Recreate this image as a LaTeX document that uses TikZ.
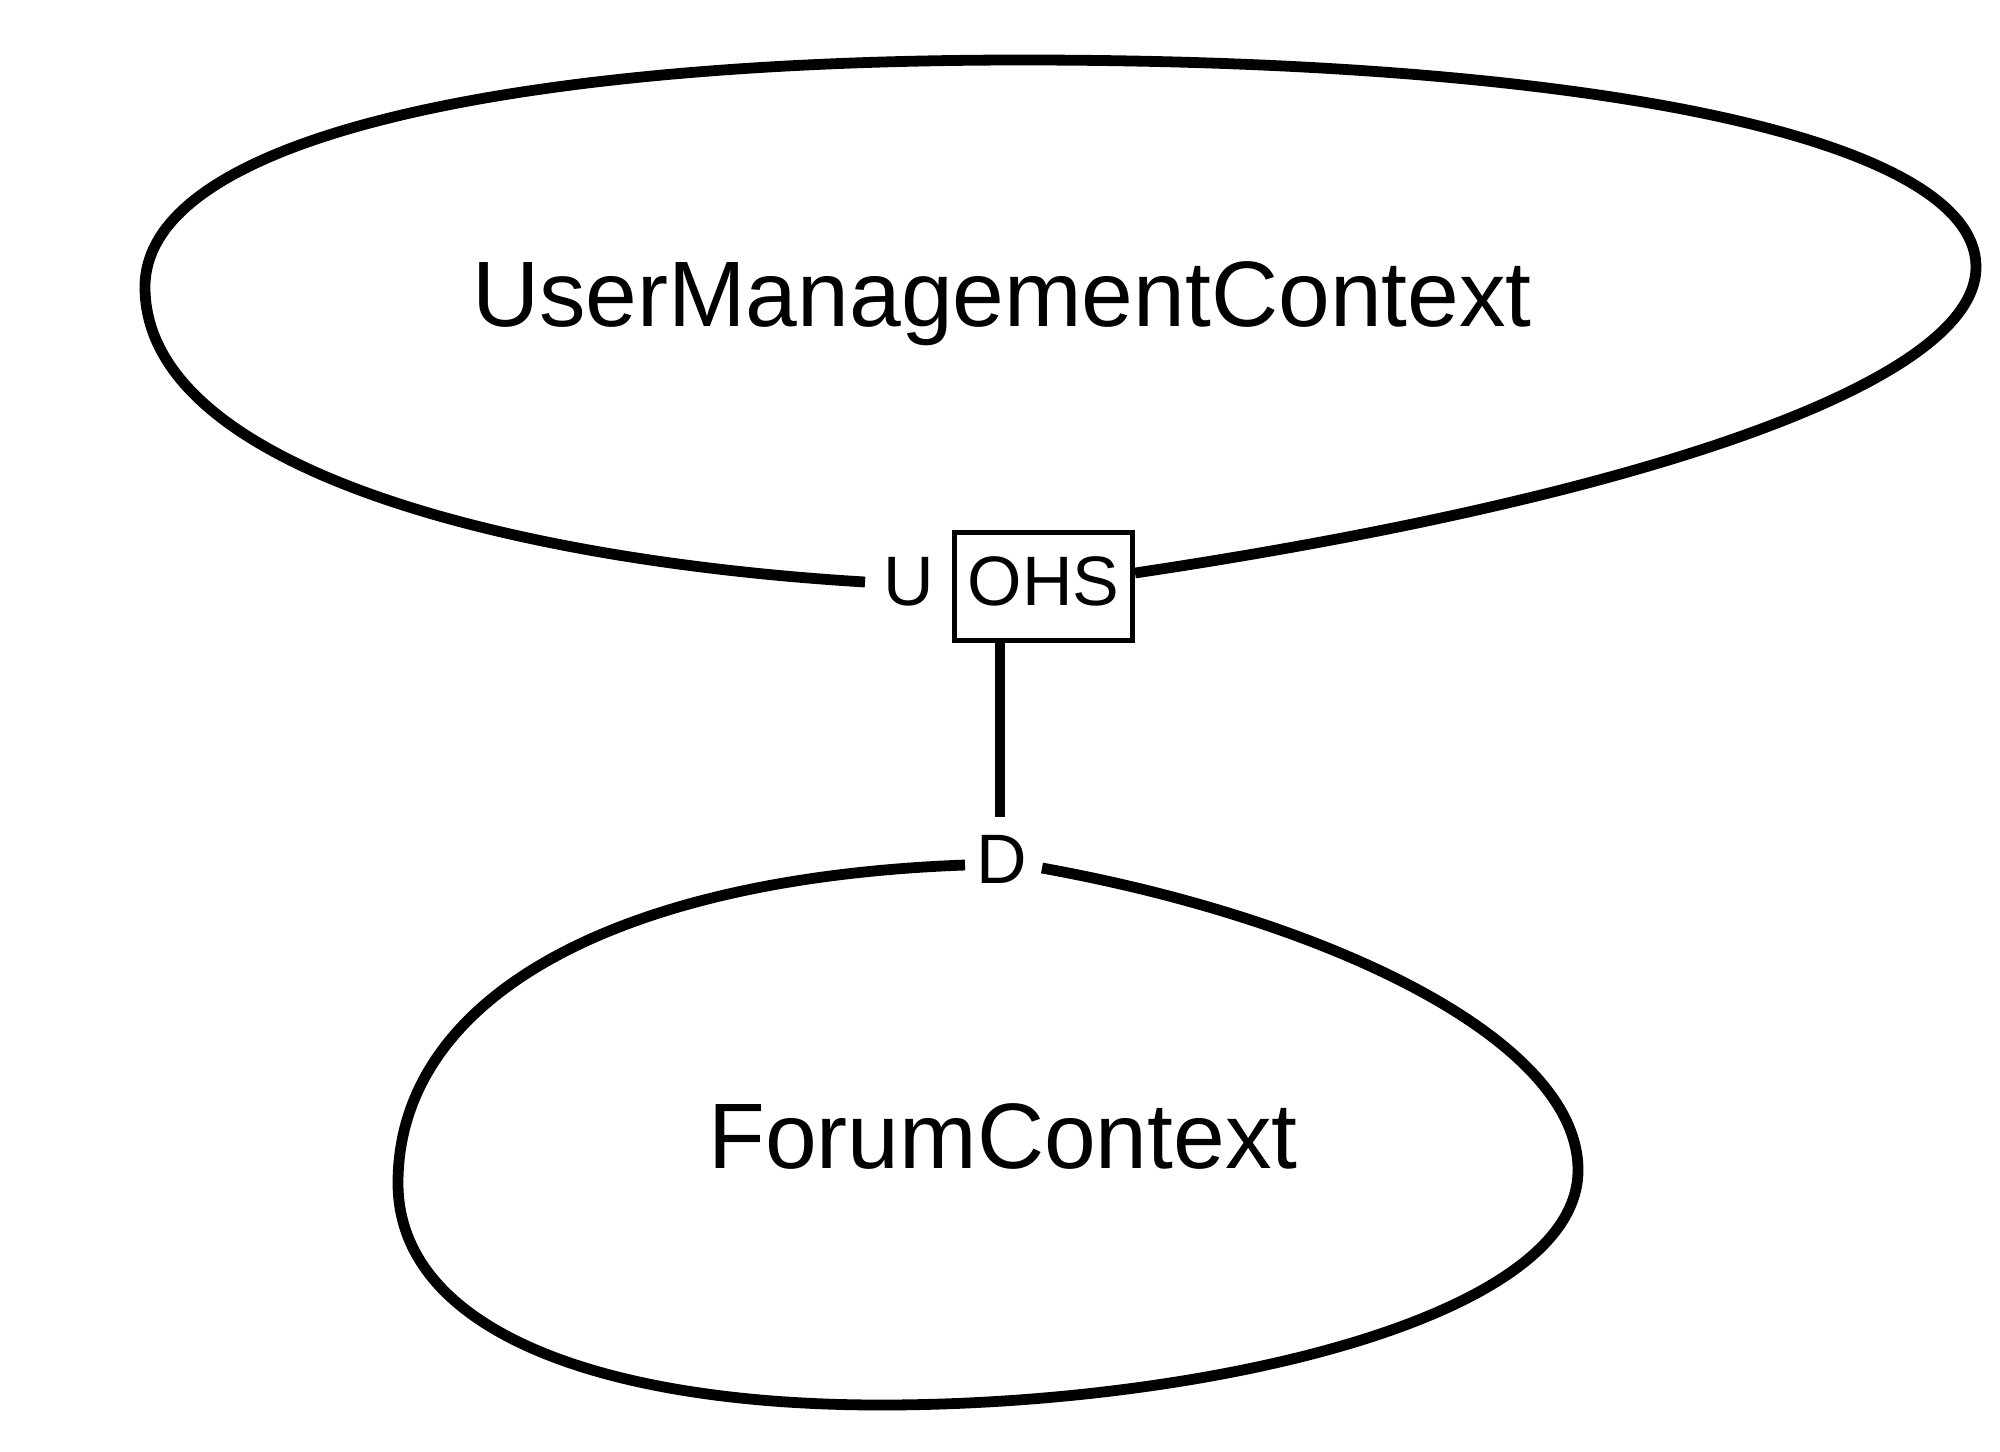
\documentclass[tikz,border=0pt]{standalone}
\usepackage{fontspec}
\setmainfont{Liberation Sans}
\begin{document}
\begin{tikzpicture}[x=0.5pt,y=-0.5pt,
  ctxline/.style={line width=5.4pt, line cap=butt, line join=round},
  bigtxt/.style={font=\fontsize{46.5pt}{50pt}\selectfont, inner sep=0pt, anchor=base},
  smalltxt/.style={font=\fontsize{35pt}{38pt}\selectfont, inner sep=0pt, anchor=base},
  ohsbox/.style={draw, line width=2.5pt, inner sep=0pt, minimum width=89pt, minimum height=54pt,
     font=\fontsize{35pt}{38pt}\selectfont, text height=25pt, text depth=6.5pt}]
\useasboundingbox (0,0) rectangle (2000,1451);
\node[bigtxt] (umc) at (1002,326) {UserManagementContext};
\node[bigtxt] (fc) at (1003,1168) {ForumContext};
\node[ohsbox] (ohs) at (1043.5,586.5) {OHS};
\node[smalltxt] (ulab) at (909,605) {U};
\node[smalltxt] (dlab) at (1002,883) {D};
\coordinate (uend) at (865,582);
\coordinate (ostart) at (ohs.east |- 0,573);
\coordinate (dtop) at (1000,817);
\coordinate (dleft) at (965,865);
\coordinate (dright) at (1042,868);
% top context outline
\draw[ctxline] (ostart) .. controls (1617,501) and (1976,387) .. (1976,267)
  .. controls (1976,140) and (1600,60) .. (1022,60)
  .. controls (500,60) and (145,140) .. (145,287)
  .. controls (145,470) and (515,561) .. (uend);
% bottom context outline
\draw[ctxline] (dleft) .. controls (610,878) and (398,1000) .. (398,1183)
  .. controls (398,1330) and (600,1405) .. (881,1405)
  .. controls (1200,1405) and (1578,1320) .. (1578,1170)
  .. controls (1578,1040) and (1330,920) .. (dright);
% relation connector
\draw[ctxline] (dtop |- ohs.south) -- (dtop);
\end{tikzpicture}
\end{document}
